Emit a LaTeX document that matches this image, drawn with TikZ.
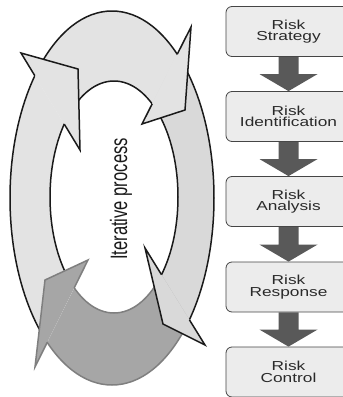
\documentclass[tikz,border=0pt]{standalone}
\usepackage{fontspec}
\setmainfont{Liberation Sans}
\newfontfamily\boxfont[FakeStretch=1.33]{Liberation Sans}
\usetikzlibrary{intersections}
\definecolor{lightfill}{HTML}{E3E3E3}
\definecolor{midfill}{HTML}{D9D9D9}
\definecolor{darkfill}{HTML}{A6A6A6}
\definecolor{darkline}{HTML}{7F7F7F}
\definecolor{blackline}{HTML}{1A1A1A}
\definecolor{boxfill}{HTML}{ECECEC}
\definecolor{boxline}{HTML}{454545}
\definecolor{arrowfill}{HTML}{595959}
\definecolor{textcol}{HTML}{2A2A2A}
\tikzset{
  ring/.style={insert path={(112,198) ellipse [x radius=102pt, y radius=187pt]
                            (114,197) ellipse [x radius=64pt, y radius=116pt]}},
  loopline/.style={line width=1.5pt, line join=miter, miter limit=20},
  rbox/.style={draw=boxline, fill=boxfill, line width=0.8pt, rounded corners=6pt,
               minimum width=125pt, minimum height=50pt, inner sep=0pt,
               align=center, text=textcol,
               font=\boxfont\fontsize{13}{11.5}\selectfont},
  barrow/.style={fill=arrowfill}
}
\newcommand\boxarrow[2]{%
  \fill[barrow] ([xshift=-10pt]#1.south) -- ([xshift=-10pt,yshift=17pt]#2.north)
    -- ([xshift=-29pt,yshift=17pt]#2.north) -- (#2.north)
    -- ([xshift=29pt,yshift=17pt]#2.north) -- ([xshift=10pt,yshift=17pt]#2.north)
    -- ([xshift=10pt]#1.south) -- cycle;}
\begin{document}
\begin{tikzpicture}[x=1pt,y=-1pt]
\useasboundingbox (0,0) rectangle (343,397);

% ellipse paths for intersections
\path[name path=outer] (112,198) ellipse [x radius=102pt, y radius=187pt];
\path[name path=inner] (114,197) ellipse [x radius=64pt, y radius=116pt];

% back lines of the four heads
\path[name path=L1] (21,53) -- (80,150);
\path[name path=L2] (191,27) -- (142,124);
\path[name path=L3] (205,345) -- (145,248);
\path[name path=L4] (35,367) -- (88,260);
\path[name intersections={of=outer and L1, by=o1}];
\path[name intersections={of=inner and L1, by=i1}];
\path[name intersections={of=outer and L2, by=o2}];
\path[name intersections={of=inner and L2, by=i2}];
\path[name intersections={of=outer and L3, by=o3}];
\path[name intersections={of=inner and L3, by=i3}];
\path[name intersections={of=outer and L4, by=o4}];
\path[name intersections={of=inner and L4, by=i4}];

% band of the top arrow
\begin{scope}
  \clip (80,150) -- (-97,-141) -- (289,-167) -- (142,124) -- cycle;
  \fill[lightfill, even odd rule, ring];
  \draw[loopline, draw=blackline, ring];
\end{scope}
% band of the right arrow
\begin{scope}
  \clip (142,124) -- (289,-167) -- (420,200) -- (325,539) -- (145,248) -- cycle;
  \fill[midfill, even odd rule, ring];
  \draw[loopline, draw=blackline, ring];
\end{scope}
% band of the bottom arrow
\begin{scope}
  \clip (145,248) -- (325,539) -- (-71,581) -- (88,260) -- cycle;
  \fill[darkfill, even odd rule, ring];
  \draw[loopline, draw=darkline, ring];
\end{scope}
% band of the left arrow
\begin{scope}
  \clip (88,260) -- (-71,581) -- (-200,200) -- (-97,-141) -- (80,150) -- cycle;
  \fill[lightfill, even odd rule, ring];
  \draw[loopline, draw=blackline, ring];
\end{scope}

% heads
\fill[lightfill] (21,53) -- (78,69) -- (80,150) -- cycle;
\draw[loopline, draw=blackline] (o1) -- (21,53) -- (78,69) -- (80,150) -- (i1);
\fill[lightfill] (191,27) -- (185,110) -- (142,124) -- cycle;
\draw[loopline, draw=blackline] (o2) -- (191,27) -- (185,110) -- (142,124) -- (i2);
\fill[midfill] (205,345) -- (163,324) -- (145,248) -- cycle;
\draw[loopline, draw=blackline] (o3) -- (205,345) -- (163,324) -- (145,248) -- (i3);
\fill[darkfill] (35,367) -- (45,280) -- (88,260) -- cycle;
\draw[loopline, draw=darkline] (o4) -- (35,367) -- (45,280) -- (88,260) -- (i4);

% label
\node[rotate=90, inner sep=0pt, text=blackline] (lbl) at (121,199)
  {\scalebox{1}[1.43]{\fontsize{16.6}{18}\selectfont Iterative process}};

% boxes
\node[rbox] (b1) at (288.5,31.5) {Risk\\Strategy};
\node[rbox] (b2) at (288.5,116.5) {Risk\\Identification};
\node[rbox] (b3) at (288.5,201.5) {Risk\\Analysis};
\node[rbox] (b4) at (288.5,287) {Risk\\Response};
\node[rbox] (b5) at (288.5,372) {Risk\\Control};
\boxarrow{b1}{b2}
\boxarrow{b2}{b3}
\boxarrow{b3}{b4}
\boxarrow{b4}{b5}
\end{tikzpicture}
\end{document}
